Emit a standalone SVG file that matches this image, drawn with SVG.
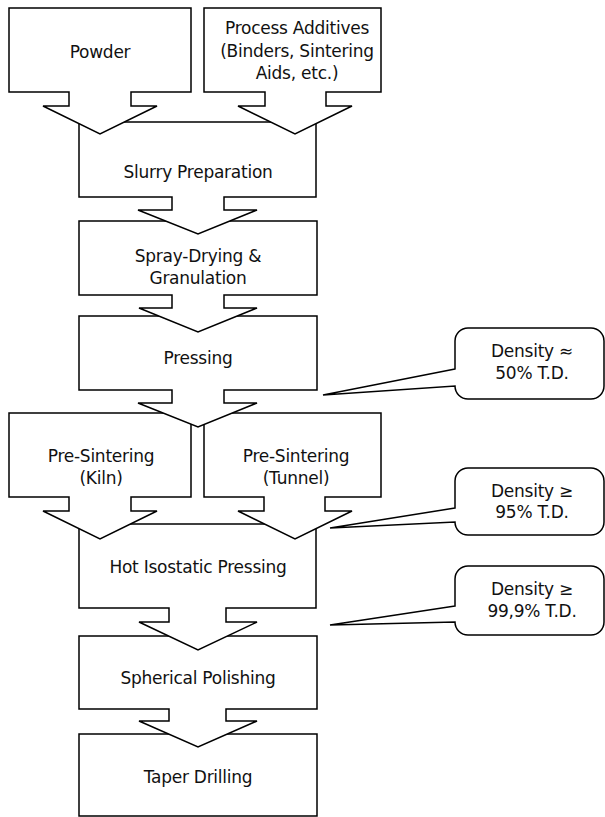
<svg xmlns="http://www.w3.org/2000/svg" width="605" height="817" viewBox="0 0 605 817">
<style>
.b{fill:#fff;stroke:#000;stroke-width:1.5;stroke-linejoin:miter}
.t{font-family:"DejaVu Sans","Liberation Sans",sans-serif;font-size:17px;letter-spacing:-0.25px;fill:#111;text-anchor:middle}
</style>
<rect width="605" height="817" fill="#fff"/>
<g id="taper">
<polygon class="b" points="79,734 317,734 317,816 79,816"/>
<text class="t" x="198" y="783">Taper Drilling</text>
</g>
<g id="spherical">
<polygon class="b" points="79,636 317,636 317,709 226,709 226,721 257,721 198,747 139,721 169,721 169,709 79,709"/>
<text class="t" x="198" y="684">Spherical Polishing</text>
</g>
<g id="hip">
<polygon class="b" points="79,524 316,524 316,608 226,608 226,622 257,622 198,650 139,622 169,622 169,608 79,608"/>
<text class="t" x="198" y="573">Hot Isostatic Pressing</text>
</g>
<g id="tunnel">
<polygon class="b" points="204,413 381,413 381,497 325,497 325,511 352,511 295,539 238,511 264,511 264,497 204,497"/>
<text class="t" x="296" y="462">Pre-Sintering</text>
<text class="t" x="296" y="483.5">(Tunnel)</text>
</g>
<g id="kiln">
<polygon class="b" points="9,413 191,413 191,497 131,497 131,511 157,511 100,539 43,511 69,511 69,497 9,497"/>
<text class="t" x="101" y="462">Pre-Sintering</text>
<text class="t" x="101" y="483.5">(Kiln)</text>
</g>
<g id="pressing">
<polygon class="b" points="79,316 317,316 317,390 224,390 224,403 257,403 198,427 138,403 172,403 172,390 79,390"/>
<text class="t" x="198" y="364">Pressing</text>
</g>
<g id="spray">
<polygon class="b" points="79,221 317,221 317,295 224,295 224,308 257,308 198,332 139,308 172,308 172,295 79,295"/>
<text class="t" x="198" y="262">Spray-Drying &amp;</text>
<text class="t" x="198" y="283.5">Granulation</text>
</g>
<g id="slurry">
<polygon class="b" points="79,122 316,122 316,197 224,197 224,210 257,210 198,234 138,210 172,210 172,197 79,197"/>
<text class="t" x="198" y="178">Slurry Preparation</text>
</g>
<g id="additives">
<polygon class="b" points="204,8 381,8 381,92 326,92 326,106 352,106 295,134 238,106 265,106 265,92 204,92"/>
<text class="t" x="297" y="34">Process Additives</text>
<text class="t" x="297" y="56.5">(Binders, Sintering</text>
<text class="t" x="297" y="79">Aids, etc.)</text>
</g>
<g id="powder">
<polygon class="b" points="9,8 191,8 191,92 131,92 131,106 157,106 100,134 43,106 69,106 69,92 9,92"/>
<text class="t" x="100" y="58">Powder</text>
</g>
<g id="callout1">
<path class="b" d="M455,369 L323,395 L455,386 A13,13 0 0 0 468,399 L591,399 A13,13 0 0 0 604,386 L604,341 A13,13 0 0 0 591,328 L468,328 A13,13 0 0 0 455,341 Z"/>
<text class="t" x="532" y="357">Density ≈</text>
<text class="t" x="532" y="379">50% T.D.</text>
</g>
<g id="callout2">
<path class="b" d="M455,508 L330,528 L455,522 A13,13 0 0 0 468,535 L591,535 A13,13 0 0 0 604,522 L604,481 A13,13 0 0 0 591,468 L468,468 A13,13 0 0 0 455,481 Z"/>
<text class="t" x="532" y="497">Density ≥</text>
<text class="t" x="532" y="518">95% T.D.</text>
</g>
<g id="callout3">
<path class="b" d="M455,606 L330,625 L455,622 A13,13 0 0 0 468,635 L591,635 A13,13 0 0 0 604,622 L604,579 A13,13 0 0 0 591,566 L468,566 A13,13 0 0 0 455,579 Z"/>
<text class="t" x="532" y="594.5">Density ≥</text>
<text class="t" x="532" y="617">99,9% T.D.</text>
</g>
</svg>
